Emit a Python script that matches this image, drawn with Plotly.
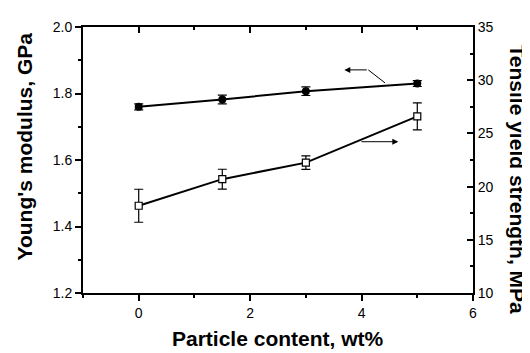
import plotly.graph_objects as go

# Data
content = [0, 1.5, 3, 5]
modulus = [1.760, 1.782, 1.807, 1.830]
modulus_err = [0.009, 0.013, 0.013, 0.009]
strength = [18.2, 20.7, 22.25, 26.6]
strength_err = [1.55, 0.93, 0.64, 1.26]

x_ticks = [0, 2, 4, 6]
ylabel_left = "Young's modulus, GPa"
ylabel_right = "Tensile yield strength, MPa"
xlabel = "Particle content, wt%"

# indicator arrows (data coordinates, left axis)
mod_arrow_x = [4.42, 4.12, 3.69]
mod_arrow_y = [1.832, 1.871, 1.871]
str_arrow_x = [3.97, 4.66]
str_arrow_y = [1.655, 1.655]

FONT = "Liberation Sans, Arial, sans-serif"

fig = go.Figure()

fig.add_trace(go.Scatter(
    x=content, y=modulus, mode="lines+markers",
    line=dict(color="black", width=2),
    marker=dict(symbol="circle", size=8, color="black"),
    error_y=dict(type="data", array=modulus_err, color="black", thickness=1.2, width=4.5),
    yaxis="y", xaxis="x", showlegend=False))

fig.add_trace(go.Scatter(
    x=content, y=strength, mode="lines+markers",
    line=dict(color="black", width=2),
    marker=dict(symbol="square", size=7, color="white", line=dict(color="black", width=1.2)),
    error_y=dict(type="data", array=strength_err, color="black", thickness=1.2, width=4.5),
    yaxis="y2", xaxis="x", showlegend=False))

# invisible trace to activate the top axis
fig.add_trace(go.Scatter(x=[None], y=[None], xaxis="x2", yaxis="y",
                         showlegend=False, hoverinfo="skip"))

# arrow polyline segments
fig.add_trace(go.Scatter(x=mod_arrow_x[:2], y=mod_arrow_y[:2], mode="lines",
                         line=dict(color="black", width=1), showlegend=False,
                         xaxis="x", yaxis="y"))
fig.add_annotation(x=mod_arrow_x[2], y=mod_arrow_y[2], ax=mod_arrow_x[1], ay=mod_arrow_y[1],
                   xref="x", yref="y", axref="x", ayref="y", text="",
                   showarrow=True, arrowhead=2, arrowsize=1.2, arrowwidth=1, arrowcolor="black")
fig.add_annotation(x=str_arrow_x[1], y=str_arrow_y[1], ax=str_arrow_x[0], ay=str_arrow_y[0],
                   xref="x", yref="y", axref="x", ayref="y", text="",
                   showarrow=True, arrowhead=2, arrowsize=1.2, arrowwidth=1, arrowcolor="black")

# axis titles
fig.add_annotation(text="<b>" + xlabel + "</b>", xref="paper", yref="paper", x=0.5, y=-0.172,
                   showarrow=False, font=dict(family=FONT, size=21, color="black"),
                   xanchor="center", yanchor="middle")
fig.add_annotation(text="<b>" + ylabel_left + "</b>", xref="paper", yref="paper", x=-0.151, y=0.551,
                   showarrow=False, textangle=-90,
                   font=dict(family=FONT, size=21, color="black"),
                   xanchor="center", yanchor="middle")
fig.add_annotation(text="<b>" + ylabel_right + "</b>", xref="paper", yref="paper", x=1.113, y=0.43,
                   showarrow=False, textangle=90,
                   font=dict(family=FONT, size=21, color="black"),
                   xanchor="center", yanchor="middle")

tickfont = dict(family=FONT, size=14, color="black")

fig.update_layout(
    width=522, height=345,
    margin=dict(l=75, r=57, t=11, b=60),
    paper_bgcolor="white", plot_bgcolor="white",
    font=dict(family=FONT, color="black"),
    xaxis=dict(range=[-1, 6], tickvals=x_ticks, ticks="outside", ticklen=6, tickwidth=1.5,
               tickcolor="black", showline=True, linecolor="black", linewidth=2,
               showgrid=False, zeroline=False, tickfont=tickfont,
               minor=dict(dtick=1, ticks="outside", ticklen=3, tickwidth=1.5, tickcolor="black")),
    xaxis2=dict(range=[-1, 6], tickvals=x_ticks, overlaying="x", side="top", anchor="y",
                ticks="inside", ticklen=6, tickwidth=1.5, tickcolor="black",
                showline=True, linecolor="black", linewidth=2, showticklabels=False,
                showgrid=False, zeroline=False,
                minor=dict(dtick=1, ticks="inside", ticklen=3, tickwidth=1.5, tickcolor="black")),
    yaxis=dict(range=[1.2, 2.0], dtick=0.2, tick0=1.2, tickformat=".1f", ticks="outside",
               ticklen=6, tickwidth=1.5, tickcolor="black", showline=True, linecolor="black",
               linewidth=2, showgrid=False, zeroline=False, tickfont=tickfont,
               minor=dict(dtick=0.1, ticks="outside", ticklen=3, tickwidth=1.5, tickcolor="black")),
    yaxis2=dict(range=[10, 35], dtick=5, tick0=10, overlaying="y", side="right", anchor="x",
                ticks="inside", ticklen=6, tickwidth=1.5, tickcolor="black", showline=True,
                linecolor="black", linewidth=2, showgrid=False, zeroline=False, tickfont=tickfont,
                minor=dict(dtick=2.5, ticks="inside", ticklen=3, tickwidth=1.5, tickcolor="black")),
)

fig.write_html("out.html")
